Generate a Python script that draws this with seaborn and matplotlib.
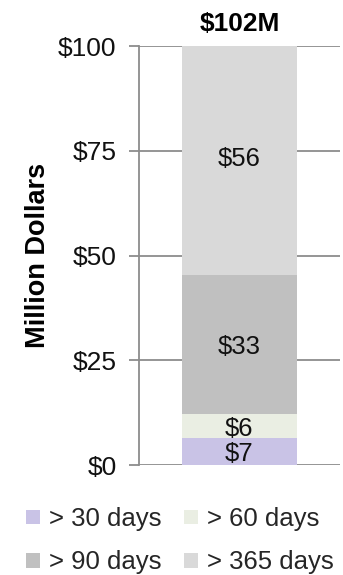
import matplotlib
matplotlib.use("Agg")
import matplotlib.pyplot as plt
import seaborn as sns
import pandas as pd
from matplotlib.patches import Patch

categories = ["> 30 days", "> 60 days", "> 90 days", "> 365 days"]
values = [6.4, 5.8, 33.2, 56.3]
value_labels = ["$7", "$6", "$33", "$56"]
total_label = "$102M"
colors = ["#c9c3e6", "#eaeee3", "#c0c0c0", "#d9d9d9"]
yticks = [0, 25, 50, 75, 100]
ytick_labels = ["$0", "$25", "$50", "$75", "$100"]

sns.set_theme(style="white")
plt.rcParams["font.family"] = ["Liberation Sans", "DejaVu Sans"]

fig = plt.figure(figsize=(3.43, 5.75), dpi=100)
ax = fig.add_axes([0.405, 0.191, 0.586, 0.729])

df = pd.DataFrame({"group": ["A"] * len(categories), "category": categories, "value": values})
bottom = 0.0
for cat, val, col, lab in zip(categories, values, colors, value_labels):
    sub = df[df["category"] == cat]
    sns.barplot(data=sub, x="group", y="value", color=col, width=0.572,
                bottom=bottom, ax=ax, saturation=1, zorder=3, linewidth=0)
    mid = bottom + val / 2
    ax.text(0, mid - 0.6, lab, ha="center", va="center",
            fontsize=18.5, color="#111111", zorder=4)
    bottom += val

ax.set_xlim(-0.5, 0.5)
ax.set_ylim(0, 100)
ax.set_yticks(yticks)
ax.set_yticklabels(ytick_labels, fontsize=19, color="#111111")
ax.set_xticks([])
ax.set_xlabel("")
ax.set_ylabel("Million Dollars", fontsize=19.5, fontweight="bold", color="#000000", labelpad=5)
ax.yaxis.grid(True, color="#8c8c8c", linewidth=1.3, zorder=1)
ax.set_axisbelow(True)
for s in ["top", "right", "bottom"]:
    ax.spines[s].set_visible(False)
ax.spines["left"].set_color("#8c8c8c")
ax.spines["left"].set_linewidth(1.3)
ax.tick_params(axis="y", direction="out", length=7, width=1.3, color="#8c8c8c", pad=9, left=True)

ax.text(0, 102.4, total_label, ha="center", va="bottom", fontsize=19, fontweight="bold",
        family=["Liberation Sans Narrow", "Liberation Sans"], color="#000000")

order = [0, 2, 1, 3]
handles = [Patch(facecolor=colors[i], edgecolor="none") for i in order]
labels = [categories[i] for i in order]
fig.legend(handles, labels, loc="upper left", bbox_to_anchor=(0.076, 0.118), ncol=2,
           frameon=False, fontsize=18.5, handlelength=0.55, handleheight=0.5,
           handletextpad=0.35, columnspacing=0.85, labelspacing=0.75, borderaxespad=0,
           borderpad=0)

fig.savefig("out.png", dpi=100)
